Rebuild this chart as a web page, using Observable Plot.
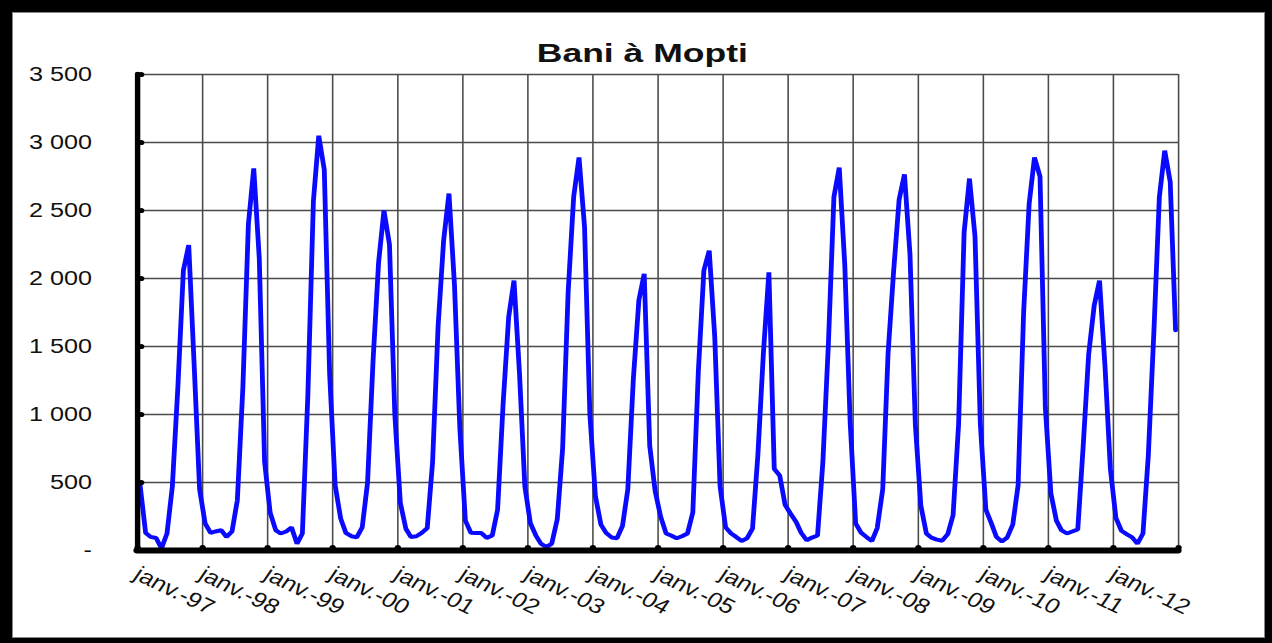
<!DOCTYPE html>
<html>
<head>
<meta charset="utf-8">
<script src="https://cdn.jsdelivr.net/npm/d3@7"></script>
<script src="https://cdn.jsdelivr.net/npm/@observablehq/plot@0.6"></script>
<style>
  html, body { margin: 0; padding: 0; background: #000; }
  #frame { position: relative; width: 1272px; height: 643px; background: #000; overflow: hidden; }
  #paper { position: absolute; left: 12px; top: 12px; width: 1251px; height: 624px; background: #fff; border: 1px solid #888; }
  #title { position: absolute; left: 0; top: 41px; width: 1285px; text-align: center;
           font: bold 25px "Liberation Sans", Arial, sans-serif; line-height: 25px; color: #111; }
  #title span { display: inline-block; transform: scaleX(1.42); }
  #chart { position: absolute; left: 0; top: 0; width: 1060px; height: 643px; }
  #chart svg { transform: scaleX(1.2); transform-origin: 0 0; }
</style>
</head>
<body>
<div id="frame">
  <div id="paper"></div>
  <div id="title"><span>Bani à Mopti</span></div>
  <div id="chart"></div>
</div>
<script>
// ---- data (monthly discharge, m3/s) ----
const startYear = 1997;
const years = d3.range(1997, 2013);
const yearLabels = ["janv.-97","janv.-98","janv.-99","janv.-00","janv.-01","janv.-02","janv.-03","janv.-04",
                    "janv.-05","janv.-06","janv.-07","janv.-08","janv.-09","janv.-10","janv.-11","janv.-12"];
const gridYears = d3.range(1997, 2014);
const yTicks = [0, 500, 1000, 1500, 2000, 2500, 3000, 3500];
const flow = [
  480, 130, 100, 92, 15, 125, 470, 1200, 2060, 2245, 1350, 450,      // 1997
  200, 130, 140, 150, 100, 140, 370, 1200, 2400, 2810, 2150, 650,    // 1998
  280, 150, 125, 140, 170, 50, 125, 1150, 2570, 3050, 2800, 1300,    // 1999
  480, 235, 130, 105, 96, 170, 500, 1400, 2120, 2500, 2250, 1000,    // 2000
  350, 160, 100, 105, 130, 165, 650, 1650, 2280, 2625, 1950, 900,    // 2001
  220, 130, 128, 128, 93, 110, 300, 1080, 1715, 1985, 1300, 470,     // 2002
  200, 110, 50, 25, 50, 230, 750, 1900, 2600, 2890, 2380, 1000,      // 2003
  400, 190, 130, 96, 90, 180, 450, 1260, 1840, 2035, 770, 440,       // 2004
  250, 125, 110, 90, 105, 125, 280, 1320, 2060, 2205, 1570, 470,     // 2005
  170, 125, 100, 70, 90, 160, 700, 1450, 2045, 600, 550, 335,        // 2006
  270, 210, 130, 75, 95, 110, 650, 1520, 2600, 2815, 2100, 950,      // 2007
  200, 130, 100, 70, 165, 450, 1450, 2050, 2580, 2765, 2180, 930,    // 2008
  330, 125, 95, 80, 72, 120, 260, 930, 2340, 2735, 2310, 930,        // 2009
  300, 200, 100, 66, 96, 190, 480, 1750, 2550, 2890, 2750, 1050,     // 2010
  420, 220, 150, 125, 140, 155, 760, 1440, 1800, 1985, 1350, 600,    // 2011
  240, 145, 120, 96, 50, 125, 700, 1600, 2600, 2940, 2710, 1620      // 2012
];

// ---- derived tables ----
const records = flow.map((v, i) => ({date: new Date(Date.UTC(startYear, i, 15)), flow: v}));
const yearDates = years.map(y => new Date(Date.UTC(y, 0, 1)));
const gridDates = gridYears.map(y => new Date(Date.UTC(y, 0, 1)));
const xStart = gridDates[0];
const xEnd = gridDates[gridDates.length - 1];
const fmt = d3.format(",");
const yFormat = d => d === 0 ? "-" : fmt(d).replace(/,/g, " ");

const S = 1.2; // horizontal stretch of the original picture
const W = 1272 / S;

const chart = Plot.plot({
  width: W,
  height: 643,
  marginLeft: 137 / S,
  marginRight: W - 1178 / S,
  marginTop: 74,
  marginBottom: 93,
  style: {
    background: "transparent",
    overflow: "visible",
    fontFamily: "'Liberation Sans', Arial, sans-serif",
    fontSize: "21px",
    color: "#111"
  },
  x: {type: "utc", domain: [xStart, xEnd], axis: null},
  y: {domain: [0, 3500], ticks: yTicks, tickFormat: yFormat, tickSize: 0, tickPadding: 38, label: null},
  marks: [
    Plot.ruleY(yTicks, {stroke: "#4a4a4a", strokeWidth: 1.3}),
    Plot.ruleX(gridDates, {stroke: "#4a4a4a", strokeWidth: 1.3}),
    Plot.line(records, {x: "date", y: "flow", stroke: "#0a0aff", strokeWidth: 4, strokeLinejoin: "bevel"}),
    Plot.ruleX([xStart], {stroke: "#000", strokeWidth: 4.5, strokeLinecap: "round"}),
    Plot.ruleY([0], {stroke: "#000", strokeWidth: 6, strokeLinecap: "round"}),
    Plot.dot(yTicks, {x: () => xStart, y: d => d, r: 2.6, fill: "#000", stroke: null, dx: 3}),
    Plot.dot(gridDates, {x: d => d, y: () => 0, r: 2.6, fill: "#000", stroke: null, dy: -3}),
    Plot.text(yearLabels, {
      x: (d, i) => yearDates[i], y: () => 0, text: d => d,
      rotate: 30, textAnchor: "start", dy: 22, dx: -1, fontSize: 21, fill: "#111"
    })
  ]
});
document.getElementById("chart").appendChild(chart);
</script>
</body>
</html>
